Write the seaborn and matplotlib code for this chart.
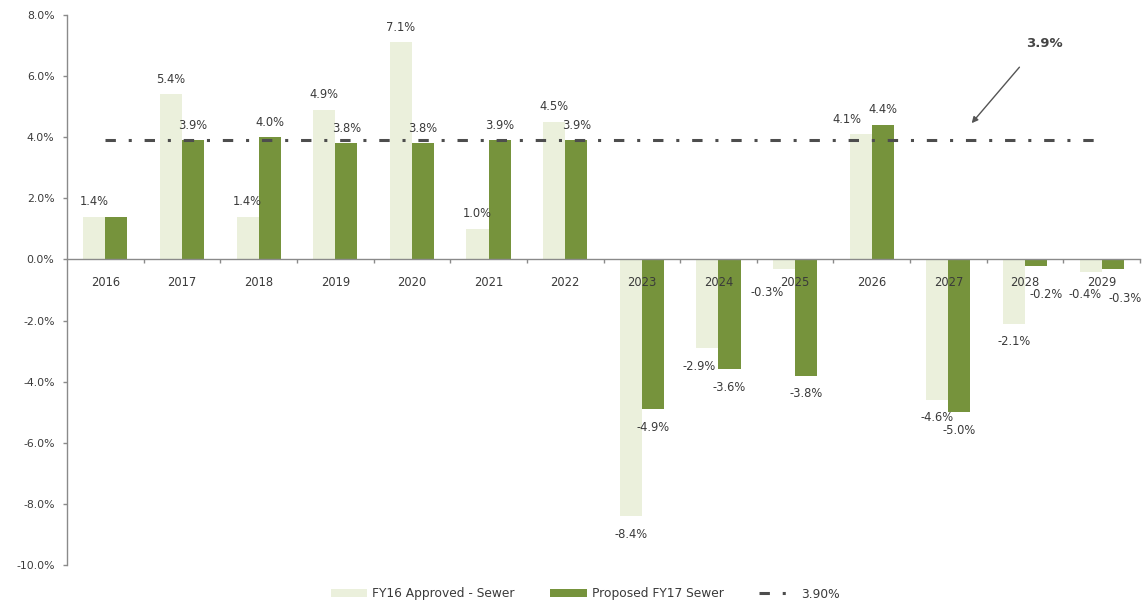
import numpy as np
import pandas as pd
import matplotlib
matplotlib.use("Agg")
import matplotlib.pyplot as plt
from matplotlib.patches import Patch
from matplotlib.lines import Line2D
import seaborn as sns

# ---- data -------------------------------------------------------------
years = ["2016", "2017", "2018", "2019", "2020", "2021", "2022",
         "2023", "2024", "2025", "2026", "2027", "2028", "2029"]
fy16_approved = [1.4, 5.4, 1.4, 4.9, 7.1, 1.0, 4.5,
                 -8.4, -2.9, -0.3, 4.1, -4.6, -2.1, -0.4]
fy17_proposed = [1.4, 3.9, 4.0, 3.8, 3.8, 3.9, 3.9,
                 -4.9, -3.6, -3.8, 4.4, -5.0, -0.2, -0.3]
target_line = [3.9, 3.9, 3.9, 3.9, 3.9, 3.9, 3.9,
               3.9, 3.9, 3.9, 3.9, 3.9, 3.9, 3.9]
y_ticks = [8, 6, 4, 2, 0, -2, -4, -6, -8, -10]

series_names = ["FY16 Approved - Sewer", "Proposed FY17 Sewer"]
line_name = "3.90%"
callout_text = "3.9%"

# ---- styling ----------------------------------------------------------
LIGHT = "#EBF0DC"
GREEN = "#76933C"
TEXT = "#3a3a3a"
AXIS = "#8a8a8a"

sns.set_theme(style="white")
plt.rcParams["font.family"] = ["DejaVu Sans"]

df = pd.DataFrame({
    "year": years * 2,
    "value": fy16_approved + fy17_proposed,
    "series": [series_names[0]] * len(years) + [series_names[1]] * len(years),
})

fig = plt.figure(figsize=(11.43, 6.06), dpi=100)
ax = fig.add_axes([0.0586, 0.0677, 0.9388, 0.9076])

sns.barplot(data=df, x="year", y="value", hue="series",
            hue_order=series_names, order=years,
            palette=[LIGHT, GREEN], saturation=1, width=0.575,
            linewidth=0, legend=False, ax=ax)

# Dash-dot reference line at 3.9%
dash_style = (0, (3.4, 4.2, 1.0, 4.2))
sns.lineplot(x=np.arange(len(years)), y=target_line, ax=ax, color="#4d4d4d",
             linewidth=2.2, linestyle=dash_style, zorder=3)

ax.set_xlim(-0.5, len(years) - 0.5)
ax.set_ylim(-10, 8)
# year labels sit on top of the bars
ax.set_axisbelow(False)

# ---- value labels -----------------------------------------------------
# per-label nudges in pixels (dx, dy) where labels would collide
nudge = {
    (0, 1): None,            # 2016 proposed bar carries no label
    (8, 0): (-8, 0),
    (9, 0): (-17, 6),
    (10, 0): (-14, 0),
    (12, 1): (10, 11),
    (13, 0): (-6, 5),
    (13, 1): (12, 12),
}
px = 72 / 100  # points per pixel
for s_idx, (vals, off) in enumerate([(fy16_approved, -0.1437),
                                     (fy17_proposed, 0.1437)]):
    for i, v in enumerate(vals):
        key = (i, s_idx)
        if key in nudge and nudge[key] is None:
            continue
        dx, dy = nudge.get(key, (0, 0))
        base = -15 if v >= 0 else 18
        ax.annotate(f"{v:.1f}%", xy=(i + off, v),
                    xytext=(dx * px, -(base + dy) * px),
                    textcoords="offset points", ha="center", va="center",
                    fontsize=8.3, color=TEXT, zorder=5)

# Callout for the reference line
ax.annotate("", xy=(11.28, 4.39), xytext=(11.95, 6.36),
            arrowprops=dict(arrowstyle="-|>", color="#555555", lw=1.0,
                            mutation_scale=9))
ax.text(12.25, 7.08, callout_text, ha="center", va="center", fontsize=9.5,
        fontweight="bold", color="#444444")

# ---- axes -------------------------------------------------------------
for side in ("top", "right"):
    ax.spines[side].set_visible(False)
ax.spines["left"].set_color(AXIS)
ax.spines["bottom"].set_color(AXIS)
ax.spines["left"].set_linewidth(1.0)
ax.spines["bottom"].set_linewidth(1.0)
ax.spines["bottom"].set_position(("data", 0))

ax.set_yticks(y_ticks)
ax.set_yticklabels([f"{t:.1f}%" for t in y_ticks])
ax.tick_params(axis="y", which="major", length=3, width=1, color=AXIS,
               direction="out", pad=6, labelsize=7.8, labelcolor=TEXT, left=True)

ax.set_xticks(np.arange(len(years)))
ax.set_xticklabels(years)
ax.set_xticks(np.arange(len(years)) + 0.5, minor=True)
ax.tick_params(axis="x", which="major", length=0, pad=12, labelsize=8.3,
               labelcolor=TEXT)
ax.tick_params(axis="x", which="minor", length=3, width=1, color=AXIS,
               direction="out", bottom=True)
ax.set_xlabel("")
ax.set_ylabel("")
ax.grid(False)

# ---- legend -----------------------------------------------------------
handles = [Patch(facecolor=LIGHT, edgecolor="none", label=series_names[0]),
           Patch(facecolor=GREEN, edgecolor="none", label=series_names[1]),
           Line2D([0], [0], color="#4d4d4d", lw=2.2, linestyle=dash_style,
                  label=line_name)]
leg = fig.legend(handles=handles, loc="center", ncol=3, frameon=False,
                 bbox_to_anchor=(585 / 1143, 1 - 594 / 606),
                 fontsize=8.8, handlelength=3.0, handleheight=0.6,
                 handletextpad=0.4, columnspacing=2.9)
for t in leg.get_texts():
    t.set_color(TEXT)

fig.savefig("out.png", dpi=100)
